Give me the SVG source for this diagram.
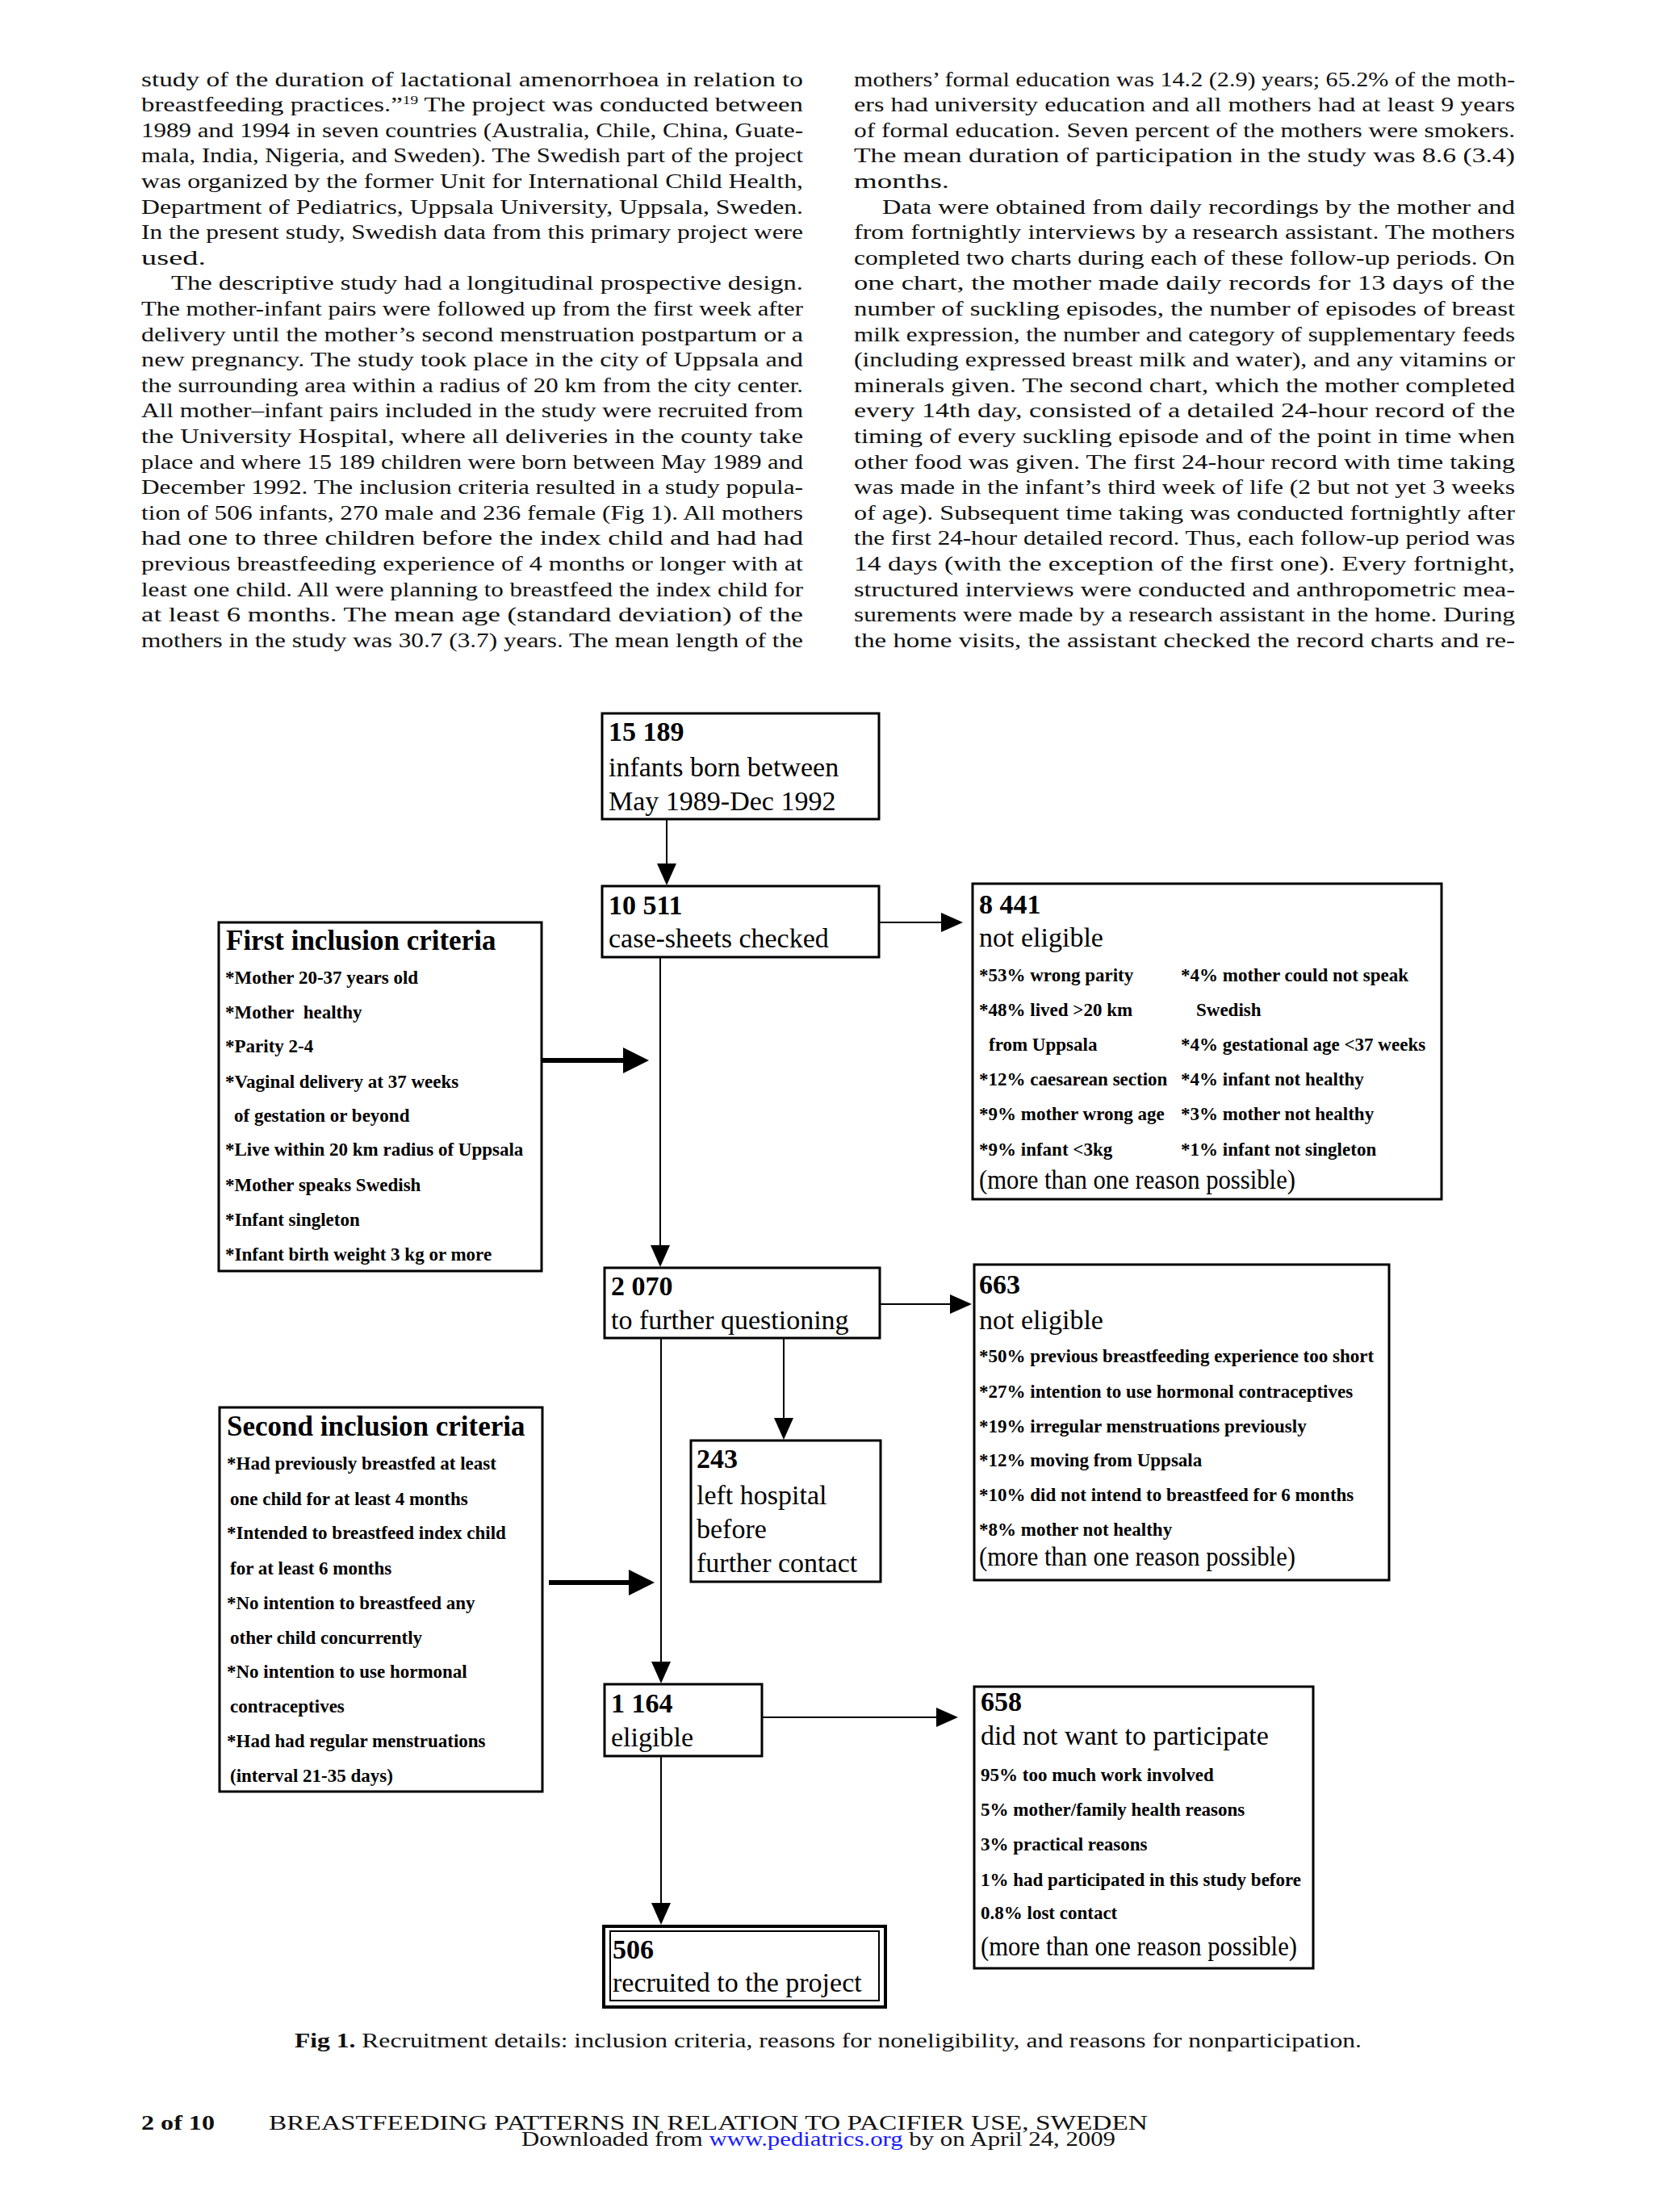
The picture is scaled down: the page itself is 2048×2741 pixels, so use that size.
<svg xmlns="http://www.w3.org/2000/svg" width="2048" height="2741" viewBox="0 0 2048 2741">
<style>
.t{font-family:"Liberation Serif","Times New Roman",serif;font-size:25.5px;fill:#111}
.n{font-family:"Liberation Serif","Times New Roman",serif;font-size:34px;font-weight:bold;fill:#000}
.b{font-family:"Liberation Serif","Times New Roman",serif;font-size:34px;fill:#000}
.h{font-family:"Liberation Serif","Times New Roman",serif;font-size:35px;font-weight:bold;fill:#000}
.i{font-family:"Liberation Serif","Times New Roman",serif;font-size:23px;font-weight:bold;fill:#000}
.box{fill:#fff;stroke:#000;stroke-width:3}
.conn{stroke:#000;stroke-width:2;fill:none}
.thick{stroke:#000;stroke-width:6;fill:none}
.cap{font-family:"Liberation Serif","Times New Roman",serif;font-size:26px;fill:#111}
</style>
<defs>
<marker id="ah" markerUnits="userSpaceOnUse" viewBox="0 0 27 24" markerWidth="27" markerHeight="24" refX="20" refY="12" orient="auto"><path d="M0,0 L27,12 L0,24 z" fill="#000"/></marker>
<marker id="ahb" markerUnits="userSpaceOnUse" viewBox="0 0 32 32" markerWidth="32" markerHeight="32" refX="8" refY="16" orient="auto"><path d="M0,0 L32,16 L0,32 z" fill="#000"/></marker>
</defs>
<rect width="2048" height="2741" fill="#fff"/>

<g id="body-left">
<text class="t" x="175" y="106.5" textLength="820" lengthAdjust="spacingAndGlyphs">study of the duration of lactational amenorrhoea in relation to</text>
<text class="t" x="175" y="138.1" textLength="820" lengthAdjust="spacingAndGlyphs">breastfeeding practices.”<tspan font-size="15" dy="-9">19</tspan><tspan dy="9"> The project was conducted between</tspan></text>
<text class="t" x="175" y="169.7" textLength="820" lengthAdjust="spacingAndGlyphs">1989 and 1994 in seven countries (Australia, Chile, China, Guate-</text>
<text class="t" x="175" y="201.3" textLength="820" lengthAdjust="spacingAndGlyphs">mala, India, Nigeria, and Sweden). The Swedish part of the project</text>
<text class="t" x="175" y="232.9" textLength="820" lengthAdjust="spacingAndGlyphs">was organized by the former Unit for International Child Health,</text>
<text class="t" x="175" y="264.5" textLength="820" lengthAdjust="spacingAndGlyphs">Department of Pediatrics, Uppsala University, Uppsala, Sweden.</text>
<text class="t" x="175" y="296.1" textLength="820" lengthAdjust="spacingAndGlyphs">In the present study, Swedish data from this primary project were</text>
<text class="t" x="175" y="327.7" textLength="80" lengthAdjust="spacingAndGlyphs">used.</text>
<text class="t" x="212" y="359.3" textLength="783" lengthAdjust="spacingAndGlyphs">The descriptive study had a longitudinal prospective design.</text>
<text class="t" x="175" y="390.9" textLength="820" lengthAdjust="spacingAndGlyphs">The mother-infant pairs were followed up from the first week after</text>
<text class="t" x="175" y="422.5" textLength="820" lengthAdjust="spacingAndGlyphs">delivery until the mother’s second menstruation postpartum or a</text>
<text class="t" x="175" y="454.1" textLength="820" lengthAdjust="spacingAndGlyphs">new pregnancy. The study took place in the city of Uppsala and</text>
<text class="t" x="175" y="485.7" textLength="820" lengthAdjust="spacingAndGlyphs">the surrounding area within a radius of 20 km from the city center.</text>
<text class="t" x="175" y="517.3" textLength="820" lengthAdjust="spacingAndGlyphs">All mother–infant pairs included in the study were recruited from</text>
<text class="t" x="175" y="548.9" textLength="820" lengthAdjust="spacingAndGlyphs">the University Hospital, where all deliveries in the county take</text>
<text class="t" x="175" y="580.5" textLength="820" lengthAdjust="spacingAndGlyphs">place and where 15 189 children were born between May 1989 and</text>
<text class="t" x="175" y="612.1" textLength="820" lengthAdjust="spacingAndGlyphs">December 1992. The inclusion criteria resulted in a study popula-</text>
<text class="t" x="175" y="643.7" textLength="820" lengthAdjust="spacingAndGlyphs">tion of 506 infants, 270 male and 236 female (Fig 1). All mothers</text>
<text class="t" x="175" y="675.3" textLength="820" lengthAdjust="spacingAndGlyphs">had one to three children before the index child and had had</text>
<text class="t" x="175" y="706.9" textLength="820" lengthAdjust="spacingAndGlyphs">previous breastfeeding experience of 4 months or longer with at</text>
<text class="t" x="175" y="738.5" textLength="820" lengthAdjust="spacingAndGlyphs">least one child. All were planning to breastfeed the index child for</text>
<text class="t" x="175" y="770.1" textLength="820" lengthAdjust="spacingAndGlyphs">at least 6 months. The mean age (standard deviation) of the</text>
<text class="t" x="175" y="801.7" textLength="820" lengthAdjust="spacingAndGlyphs">mothers in the study was 30.7 (3.7) years. The mean length of the</text>
</g>

<g id="body-right">
<text class="t" x="1058" y="106.5" textLength="819" lengthAdjust="spacingAndGlyphs">mothers’ formal education was 14.2 (2.9) years; 65.2% of the moth-</text>
<text class="t" x="1058" y="138.1" textLength="819" lengthAdjust="spacingAndGlyphs">ers had university education and all mothers had at least 9 years</text>
<text class="t" x="1058" y="169.7" textLength="819" lengthAdjust="spacingAndGlyphs">of formal education. Seven percent of the mothers were smokers.</text>
<text class="t" x="1058" y="201.3" textLength="819" lengthAdjust="spacingAndGlyphs">The mean duration of participation in the study was 8.6 (3.4)</text>
<text class="t" x="1058" y="232.9" textLength="118" lengthAdjust="spacingAndGlyphs">months.</text>
<text class="t" x="1093" y="264.5" textLength="784" lengthAdjust="spacingAndGlyphs">Data were obtained from daily recordings by the mother and</text>
<text class="t" x="1058" y="296.1" textLength="819" lengthAdjust="spacingAndGlyphs">from fortnightly interviews by a research assistant. The mothers</text>
<text class="t" x="1058" y="327.7" textLength="819" lengthAdjust="spacingAndGlyphs">completed two charts during each of these follow-up periods. On</text>
<text class="t" x="1058" y="359.3" textLength="819" lengthAdjust="spacingAndGlyphs">one chart, the mother made daily records for 13 days of the</text>
<text class="t" x="1058" y="390.9" textLength="819" lengthAdjust="spacingAndGlyphs">number of suckling episodes, the number of episodes of breast</text>
<text class="t" x="1058" y="422.5" textLength="819" lengthAdjust="spacingAndGlyphs">milk expression, the number and category of supplementary feeds</text>
<text class="t" x="1058" y="454.1" textLength="819" lengthAdjust="spacingAndGlyphs">(including expressed breast milk and water), and any vitamins or</text>
<text class="t" x="1058" y="485.7" textLength="819" lengthAdjust="spacingAndGlyphs">minerals given. The second chart, which the mother completed</text>
<text class="t" x="1058" y="517.3" textLength="819" lengthAdjust="spacingAndGlyphs">every 14th day, consisted of a detailed 24-hour record of the</text>
<text class="t" x="1058" y="548.9" textLength="819" lengthAdjust="spacingAndGlyphs">timing of every suckling episode and of the point in time when</text>
<text class="t" x="1058" y="580.5" textLength="819" lengthAdjust="spacingAndGlyphs">other food was given. The first 24-hour record with time taking</text>
<text class="t" x="1058" y="612.1" textLength="819" lengthAdjust="spacingAndGlyphs">was made in the infant’s third week of life (2 but not yet 3 weeks</text>
<text class="t" x="1058" y="643.7" textLength="819" lengthAdjust="spacingAndGlyphs">of age). Subsequent time taking was conducted fortnightly after</text>
<text class="t" x="1058" y="675.3" textLength="819" lengthAdjust="spacingAndGlyphs">the first 24-hour detailed record. Thus, each follow-up period was</text>
<text class="t" x="1058" y="706.9" textLength="819" lengthAdjust="spacingAndGlyphs">14 days (with the exception of the first one). Every fortnight,</text>
<text class="t" x="1058" y="738.5" textLength="819" lengthAdjust="spacingAndGlyphs">structured interviews were conducted and anthropometric mea-</text>
<text class="t" x="1058" y="770.1" textLength="819" lengthAdjust="spacingAndGlyphs">surements were made by a research assistant in the home. During</text>
<text class="t" x="1058" y="801.7" textLength="819" lengthAdjust="spacingAndGlyphs">the home visits, the assistant checked the record charts and re-</text>
</g>

<g id="connectors">
<line class="conn" x1="826" y1="1015" x2="826" y2="1090" marker-end="url(#ah)"/>
<line class="conn" x1="1089" y1="1143" x2="1186" y2="1143" marker-end="url(#ah)"/>
<line class="conn" x1="818" y1="1186" x2="818" y2="1563" marker-end="url(#ah)"/>
<line class="thick" x1="671" y1="1314" x2="780" y2="1314" marker-end="url(#ahb)"/>
<line class="conn" x1="1090" y1="1616" x2="1197" y2="1616" marker-end="url(#ah)"/>
<line class="conn" x1="971" y1="1658" x2="971" y2="1777" marker-end="url(#ah)"/>
<line class="conn" x1="819" y1="1658" x2="819" y2="2079" marker-end="url(#ah)"/>
<line class="thick" x1="680" y1="1961" x2="787" y2="1961" marker-end="url(#ahb)"/>
<line class="conn" x1="944" y1="2128" x2="1180" y2="2128" marker-end="url(#ah)"/>
<line class="conn" x1="819" y1="2176" x2="819" y2="2378" marker-end="url(#ah)"/>
</g>

<g id="node-15189">
<rect class="box" x="746" y="884" width="343" height="131"/>
<text class="n" x="754" y="918">15 189</text>
<text class="b" x="754" y="962">infants born between</text>
<text class="b" x="754" y="1004">May 1989-Dec 1992</text>
</g>

<g id="node-10511">
<rect class="box" x="746" y="1098" width="343" height="88"/>
<text class="n" x="754" y="1133">10 511</text>
<text class="b" x="754" y="1174">case-sheets checked</text>
</g>

<g id="node-first-criteria">
<rect class="box" x="271" y="1143" width="400" height="432"/>
<text class="h" x="280" y="1177">First inclusion criteria</text>
<text class="i" x="279" y="1219">*Mother 20-37 years old</text>
<text class="i" x="279" y="1262" xml:space="preserve">*Mother  healthy</text>
<text class="i" x="279" y="1304">*Parity 2-4</text>
<text class="i" x="279" y="1348">*Vaginal delivery at 37 weeks</text>
<text class="i" x="290" y="1390">of gestation or beyond</text>
<text class="i" x="279" y="1432">*Live within 20 km radius of Uppsala</text>
<text class="i" x="279" y="1476">*Mother speaks Swedish</text>
<text class="i" x="279" y="1519">*Infant singleton</text>
<text class="i" x="279" y="1562">*Infant birth weight 3 kg or more</text>
</g>

<g id="node-8441">
<rect class="box" x="1205" y="1095" width="581" height="391"/>
<text class="n" x="1213" y="1132">8 441</text>
<text class="b" x="1213" y="1173">not eligible</text>
<text class="i" x="1213" y="1216">*53% wrong parity</text>
<text class="i" x="1213" y="1259">*48% lived &gt;20 km</text>
<text class="i" x="1225" y="1302">from Uppsala</text>
<text class="i" x="1213" y="1345">*12% caesarean section</text>
<text class="i" x="1213" y="1388">*9% mother wrong age</text>
<text class="i" x="1213" y="1432">*9% infant &lt;3kg</text>
<text class="i" x="1463" y="1216">*4% mother could not speak</text>
<text class="i" x="1482" y="1259">Swedish</text>
<text class="i" x="1463" y="1302">*4% gestational age &lt;37 weeks</text>
<text class="i" x="1463" y="1345">*4% infant not healthy</text>
<text class="i" x="1463" y="1388">*3% mother not healthy</text>
<text class="i" x="1463" y="1432">*1% infant not singleton</text>
<text class="b" x="1213" y="1473" textLength="392" lengthAdjust="spacingAndGlyphs">(more than one reason possible)</text>
</g>

<g id="node-2070">
<rect class="box" x="749" y="1571" width="341" height="87"/>
<text class="n" x="757" y="1605">2 070</text>
<text class="b" x="757" y="1647">to further questioning</text>
</g>

<g id="node-663">
<rect class="box" x="1207" y="1567" width="514" height="391"/>
<text class="n" x="1213" y="1603">663</text>
<text class="b" x="1213" y="1647">not eligible</text>
<text class="i" x="1213" y="1688">*50% previous breastfeeding experience too short</text>
<text class="i" x="1213" y="1732">*27% intention to use hormonal contraceptives</text>
<text class="i" x="1213" y="1775">*19% irregular menstruations previously</text>
<text class="i" x="1213" y="1817">*12% moving from Uppsala</text>
<text class="i" x="1213" y="1860">*10% did not intend to breastfeed for 6 months</text>
<text class="i" x="1213" y="1903">*8% mother not healthy</text>
<text class="b" x="1213" y="1940" textLength="392" lengthAdjust="spacingAndGlyphs">(more than one reason possible)</text>
</g>

<g id="node-second-criteria">
<rect class="box" x="272" y="1744" width="400" height="476"/>
<text class="h" x="281" y="1779">Second inclusion criteria</text>
<text class="i" x="281" y="1821">*Had previously breastfed at least</text>
<text class="i" x="285" y="1865">one child for at least 4 months</text>
<text class="i" x="281" y="1907">*Intended to breastfeed index child</text>
<text class="i" x="285" y="1951">for at least 6 months</text>
<text class="i" x="281" y="1994">*No intention to breastfeed any</text>
<text class="i" x="285" y="2037">other child concurrently</text>
<text class="i" x="281" y="2079">*No intention to use hormonal</text>
<text class="i" x="285" y="2122">contraceptives</text>
<text class="i" x="281" y="2165">*Had had regular menstruations</text>
<text class="i" x="285" y="2208">(interval 21-35 days)</text>
</g>

<g id="node-243">
<rect class="box" x="856" y="1785" width="235" height="175"/>
<text class="n" x="863" y="1819">243</text>
<text class="b" x="863" y="1864">left hospital</text>
<text class="b" x="863" y="1906">before</text>
<text class="b" x="863" y="1948">further contact</text>
</g>

<g id="node-1164">
<rect class="box" x="749" y="2087" width="195" height="89"/>
<text class="n" x="757" y="2122">1 164</text>
<text class="b" x="757" y="2164">eligible</text>
</g>

<g id="node-658">
<rect class="box" x="1207" y="2090" width="420" height="349"/>
<text class="n" x="1215" y="2120">658</text>
<text class="b" x="1215" y="2162">did not want to participate</text>
<text class="i" x="1215" y="2207">95% too much work involved</text>
<text class="i" x="1215" y="2250">5% mother/family health reasons</text>
<text class="i" x="1215" y="2293">3% practical reasons</text>
<text class="i" x="1215" y="2337">1% had participated in this study before</text>
<text class="i" x="1215" y="2378">0.8% lost contact</text>
<text class="b" x="1215" y="2423" textLength="392" lengthAdjust="spacingAndGlyphs">(more than one reason possible)</text>
</g>

<g id="node-506">
<rect x="748" y="2387" width="349" height="100" fill="#fff" stroke="#000" stroke-width="4"/>
<rect x="756" y="2393" width="333" height="86" fill="none" stroke="#000" stroke-width="2"/>
<text class="n" x="759" y="2427">506</text>
<text class="b" x="759" y="2468">recruited to the project</text>
</g>

<g id="caption">
<text class="cap" x="365" y="2537" textLength="1322" lengthAdjust="spacingAndGlyphs"><tspan font-weight="bold">Fig 1.</tspan> Recruitment details: inclusion criteria, reasons for noneligibility, and reasons for nonparticipation.</text>
</g>

<g id="footer">
<text class="cap" x="175" y="2639" font-weight="bold" textLength="91" lengthAdjust="spacingAndGlyphs">2 of 10</text>
<text class="cap" x="333" y="2639" font-size="25" textLength="1089" lengthAdjust="spacingAndGlyphs">BREASTFEEDING PATTERNS IN RELATION TO PACIFIER USE, SWEDEN</text>
<text class="cap" x="646" y="2659" textLength="736" lengthAdjust="spacingAndGlyphs">Downloaded from <tspan fill="#1a1aff">www.pediatrics.org</tspan> by on April 24, 2009</text>
</g>
</svg>
